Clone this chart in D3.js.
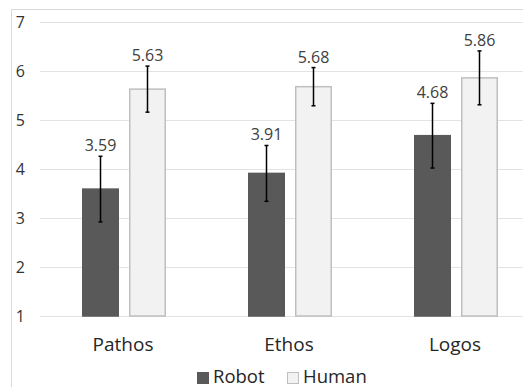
<!DOCTYPE html>
<html><head><meta charset="utf-8">
<script src="https://cdn.jsdelivr.net/npm/d3@7"></script>
<style>html,body{margin:0;padding:0;background:#fff;}svg{display:block;font-family:"Open Sans",sans-serif;}</style>
</head><body>
<svg id="c" width="523" height="387"></svg>
<script>
const categories = ["Pathos", "Ethos", "Logos"];
const seriesNames = ["Robot", "Human"];
const robotValues = [3.59, 3.91, 4.68];
const humanValues = [5.63, 5.68, 5.86];
const robotErrors = [0.67, 0.57, 0.66];
const humanErrors = [0.47, 0.39, 0.55];
const yTicks = [1, 2, 3, 4, 5, 6, 7];
const colors = {Robot: "#595959", Human: "#f2f2f2"};
const strokes = {Robot: "#595959", Human: "#bfbfbf"};

const svg = d3.select("#c");
const W = 523, H = 387;

// chart frame
svg.append("line").attr("x1", 11.5).attr("x2", W).attr("y1", 9.5).attr("y2", 9.5).attr("stroke", "#d9d9d9");
svg.append("line").attr("x1", 11.5).attr("x2", 11.5).attr("y1", 9.5).attr("y2", H).attr("stroke", "#d9d9d9");

const y = d3.scaleLinear().domain([1, 7]).range([316, 22]);
const x0 = d3.scaleBand().domain(categories).range([41, 539]).padding(0);
const x1 = d3.scaleBand().domain(seriesNames).range([41, 125]).paddingInner(10 / 47).paddingOuter(0);

// gridlines
const yAxis = d3.axisLeft(y).tickValues(yTicks).tickSize(-(W - 40)).tickFormat(d3.format("d"));
const gA = svg.append("g").attr("transform", "translate(40,0)").call(yAxis);
gA.select(".domain").remove();
gA.selectAll(".tick line").attr("stroke", "#e3e3e3").attr("stroke-width", 1);
gA.selectAll(".tick text").attr("x", -15).attr("font-size", 16).attr("fill", "#333").attr("font-family", "Open Sans");

const data = categories.map((c, i) => ({
  cat: c,
  vals: [
    {s: "Robot", v: robotValues[i], e: robotErrors[i]},
    {s: "Human", v: humanValues[i], e: humanErrors[i]}
  ]
}));

const groups = svg.append("g").selectAll("g").data(data).join("g")
  .attr("transform", d => `translate(${x0(d.cat)},0)`);

groups.selectAll("rect").data(d => d.vals).join("rect")
  .attr("x", d => x1(d.s) + 0.75)
  .attr("width", x1.bandwidth() - 1.5)
  .attr("y", d => y(d.v))
  .attr("height", d => y(1) - y(d.v))
  .attr("fill", d => colors[d.s])
  .attr("stroke", d => strokes[d.s])
  .attr("stroke-width", 1.5);

// error bars
const eb = groups.selectAll("g.eb").data(d => d.vals).join("g").attr("class", "eb");
eb.append("line")
  .attr("x1", d => x1(d.s) + x1.bandwidth() / 2).attr("x2", d => x1(d.s) + x1.bandwidth() / 2)
  .attr("y1", d => y(d.v + d.e)).attr("y2", d => y(d.v - d.e))
  .attr("stroke", "#000").attr("stroke-width", 1.5);
eb.selectAll("line.cap").data(d => [{d, t: d.v + d.e}, {d, t: d.v - d.e}]).join("line").attr("class", "cap")
  .attr("x1", o => x1(o.d.s) + x1.bandwidth() / 2 - 2).attr("x2", o => x1(o.d.s) + x1.bandwidth() / 2 + 2)
  .attr("y1", o => y(o.t)).attr("y2", o => y(o.t))
  .attr("stroke", "#000").attr("stroke-width", 1.5);

// data labels
groups.selectAll("text.lbl").data(d => d.vals).join("text").attr("class", "lbl")
  .attr("x", d => x1(d.s) + x1.bandwidth() / 2)
  .attr("y", d => y(d.v + d.e) - 5)
  .attr("text-anchor", "middle")
  .attr("font-size", 16).attr("fill", "#404040")
  .text(d => d.v.toFixed(2));

// category labels
svg.append("g").selectAll("text").data(categories).join("text")
  .attr("x", d => x0(d) + x0.bandwidth() / 2 - 1)
  .attr("y", 351)
  .attr("text-anchor", "middle")
  .attr("font-size", 19).attr("fill", "#262626")
  .text(d => d);

// legend
const legX = [197, 287];
const leg = svg.append("g").selectAll("g").data(seriesNames).join("g")
  .attr("transform", (d, i) => `translate(${legX[i]},0)`);
leg.append("rect").attr("x", 0.5).attr("y", 372.5).attr("width", 11).attr("height", 11)
  .attr("fill", d => colors[d]).attr("stroke", d => strokes[d]).attr("stroke-width", 1);
leg.append("text").attr("x", 16).attr("y", 383).attr("font-size", 18.5).attr("fill", "#262626").text(d => d);
</script>
</body></html>
